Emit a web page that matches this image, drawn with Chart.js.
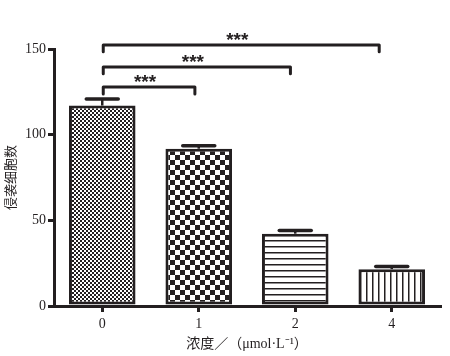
<!DOCTYPE html>
<html>
<head>
<meta charset="utf-8">
<script src="https://cdn.jsdelivr.net/npm/chart.js@4.4.0/dist/chart.umd.min.js"></script>
<style>
html,body{margin:0;padding:0;background:#fff;}
#wrap{width:450px;height:356px;}
</style>
</head>
<body>
<div id="wrap"><canvas id="c" width="450" height="356"></canvas></div>
<script>
// ---- data ----
const categories = ['0', '1', '2', '4'];
const values = [117, 91.8, 42.2, 21.5];
const errorUpper = [120.8, 93.5, 44, 23];
const yTicks = [0, 50, 100, 150];
const bracketFrom = [0, 0, 0];
const bracketTo = [0.96, 1.95, 2.87];
const bracketLevel = [127.8, 139.5, 152.4];
const bracketLabels = ['***', '***', '***'];
const yTitle = '侵袭细胞数';
const xTitle = '浓度／（μmol·L⁻¹）';

const INK = '#231f20';
const FONT_MIX = '"Liberation Serif", "Noto Sans CJK SC", serif';

function makePattern(kind) {
  const p = document.createElement('canvas');
  const ctx = p.getContext('2d');
  if (kind === 'fine') {
    p.width = 4; p.height = 4;
    ctx.fillStyle = '#fff'; ctx.fillRect(0, 0, 4, 4);
    ctx.fillStyle = INK;
    ctx.fillRect(0, 0, 2, 2); ctx.fillRect(2, 2, 2, 2);
  } else if (kind === 'coarse') {
    p.width = 10; p.height = 10;
    ctx.fillStyle = '#fff'; ctx.fillRect(0, 0, 10, 10);
    ctx.fillStyle = INK;
    ctx.fillRect(0, 0, 5, 5); ctx.fillRect(5, 5, 5, 5);
  } else if (kind === 'hlines') {
    p.width = 4; p.height = 6;
    ctx.fillStyle = '#fff'; ctx.fillRect(0, 0, 4, 6);
    ctx.fillStyle = INK; ctx.fillRect(0, 0, 4, 1.5);
  } else {
    p.width = 6; p.height = 4;
    ctx.fillStyle = '#fff'; ctx.fillRect(0, 0, 6, 4);
    ctx.fillStyle = INK; ctx.fillRect(0, 0, 1.5, 4);
  }
  return document.getElementById('c').getContext('2d').createPattern(p, 'repeat');
}
const fills = [makePattern('fine'), makePattern('coarse'), makePattern('hlines'), makePattern('vlines')];

function idxPixel(xs, v) {
  const a = Math.floor(v), b = Math.ceil(v);
  const pa = xs.getPixelForValue(a), pb = xs.getPixelForValue(b);
  return pa + (pb - pa) * (v - a);
}

const extras = {
  id: 'extras',
  afterDatasetsDraw(chart) {
    const ctx = chart.ctx;
    const xs = chart.scales.x, ys = chart.scales.y;
    const meta = chart.getDatasetMeta(0);
    ctx.save();
    ctx.strokeStyle = INK;
    // error bars
    meta.data.forEach((bar, i) => {
      const top = ys.getPixelForValue(values[i]);
      const e = ys.getPixelForValue(errorUpper[i]);
      ctx.lineWidth = 2.5;
      ctx.lineCap = 'butt';
      ctx.beginPath(); ctx.moveTo(bar.x, top); ctx.lineTo(bar.x, e); ctx.stroke();
      ctx.lineWidth = 3.5;
      ctx.lineCap = 'round';
      ctx.beginPath(); ctx.moveTo(bar.x - 16, e); ctx.lineTo(bar.x + 16, e); ctx.stroke();
    });
    // significance brackets
    ctx.lineWidth = 3;
    ctx.lineCap = 'round';
    ctx.lineJoin = 'round';
    ctx.fillStyle = INK;
    ctx.font = 'bold 19px "Liberation Sans", Arial, sans-serif';
    ctx.textAlign = 'center';
    ctx.textBaseline = 'alphabetic';
    for (let k = 0; k < bracketLevel.length; k++) {
      const x1 = idxPixel(xs, bracketFrom[k]) + 1;
      const x2 = idxPixel(xs, bracketTo[k]);
      const y = ys.getPixelForValue(bracketLevel[k]);
      const yd = ys.getPixelForValue(bracketLevel[k] - 4);
      ctx.beginPath();
      ctx.moveTo(x1, yd); ctx.lineTo(x1, y); ctx.lineTo(x2, y); ctx.lineTo(x2, yd);
      ctx.stroke();
      ctx.fillText(bracketLabels[k], (x1 + x2) / 2 - 4, y + 1);
    }
    ctx.restore();
  }
};

new Chart(document.getElementById('c'), {
  type: 'bar',
  data: {
    labels: categories,
    datasets: [{
      data: values,
      backgroundColor: fills,
      borderColor: INK,
      borderWidth: 3,
      borderSkipped: false,
      barPercentage: 0.69,
      categoryPercentage: 1.0
    }]
  },
  options: {
    responsive: false,
    animation: false,
    events: [],
    layout: { padding: { left: 0, right: 10, top: 49, bottom: 0 } },
    plugins: { legend: { display: false }, tooltip: { enabled: false } },
    scales: {
      x: {
        grid: { drawOnChartArea: false, offset: false, color: INK, lineWidth: 3, tickLength: 6 },
        border: { color: INK, width: 3 },
        ticks: { color: INK, font: { family: '"Liberation Serif", serif', size: 14 }, padding: 4 },
        title: { display: true, text: xTitle, color: INK, font: { family: FONT_MIX, size: 14 }, padding: { top: 0, bottom: 3 } },
        afterFit(s) { s.height = 50; }
      },
      y: {
        min: 0, max: 150,
        afterBuildTicks(s) { s.ticks = yTicks.map(v => ({ value: v })); },
        grid: { drawOnChartArea: false, color: INK, lineWidth: 3, tickLength: 6 },
        border: { color: INK, width: 3 },
        ticks: { color: INK, font: { family: '"Liberation Serif", serif', size: 14 }, padding: 2 },
        title: { display: true, text: yTitle, color: INK, font: { family: FONT_MIX, size: 13 }, padding: { top: 4, bottom: 0 } },
        afterFit(s) { s.width = 54; }
      }
    }
  },
  plugins: [extras]
});
</script>
</body>
</html>
